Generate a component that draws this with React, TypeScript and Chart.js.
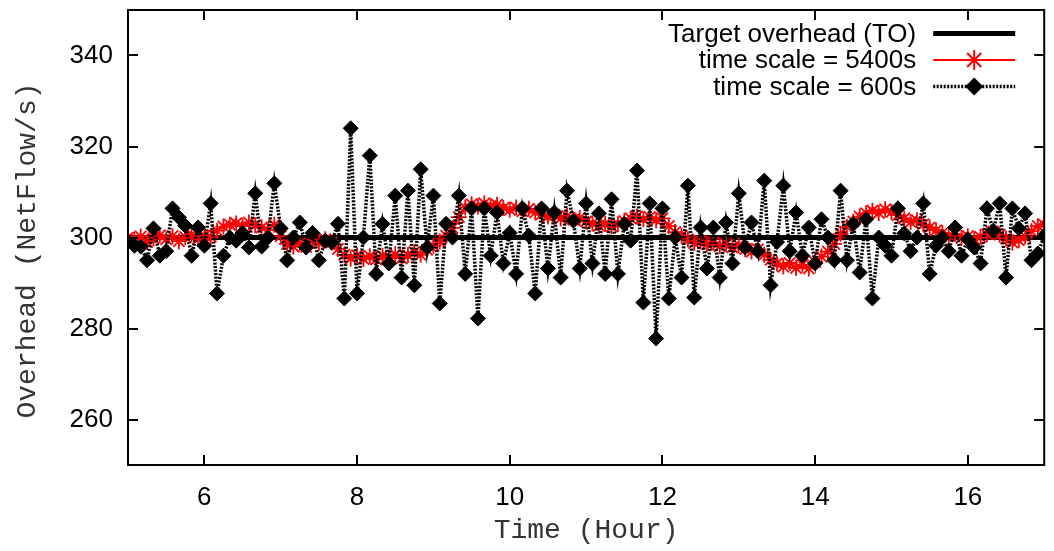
import React, { useEffect, useRef } from 'react';
import { Chart, registerables } from 'chart.js';

Chart.register(...registerables);

// ---- data ----
const startHour = 5;
const endHour = 17;
const stepMinutes = 5;
const xTicks = [6, 8, 10, 12, 14, 16];
const yTicks = [260, 280, 300, 320, 340];
const yMin = 250;
const yMax = 350;
const targetOverhead = 300;
const seriesLabels = ['Target overhead (TO)', 'time scale = 5400s', 'time scale = 600s'];
const xTitle = 'Time (Hour)';
const yTitle = 'Overhead (NetFlow/s)';

const scale5400 = [
  300, 299.5, 300.2, 299, 299.8, 300.5, 299.6, 300.3, 299.2, 300.1, 300.6, 299.7, 300.4,
  300.2, 301.5, 302.4, 302.8, 303.1, 302.5, 303.3, 302.7, 302.2, 301.6, 302.8,
  300.3, 298.6, 298.0, 298.8, 297.9, 299.5, 298.8, 299.6, 298.9,
  297.5, 296.2, 295.4, 296.1, 295.3, 295.9, 295.2, 296.0, 295.5, 296.3, 295.4, 296.1, 296.8, 296.2, 297.3,
  298.2, 299.1, 300.4, 302.1, 304.5, 306.6, 307.3, 306.8, 307.5, 306.9, 307.2, 306.5,
  306.1, 306.6, 305.8, 306.3, 305.5, 305.1, 304.6, 305.0, 304.2, 304.7, 303.9, 304.3, 303.5, 303.1, 302.6, 303.0,
  302.4, 302.9, 303.6, 304.2, 304.6, 304.0, 304.5, 303.8, 304.2, 302.5, 301.2, 300.4, 299.6, 298.8, 299.3, 298.5,
  298.9, 298.1, 298.6, 297.8, 298.3, 297.5, 296.9, 297.4, 296.2, 295.1, 294.3, 293.6, 294.4, 293.3, 294.0, 293.2,
  294.6, 295.8, 296.9, 298.6, 300.8, 302.3, 303.5, 304.6, 305.3, 305.9, 305.4, 306.2, 305.6, 304.9, 304.2, 303.4,
  303.8, 302.9, 302.2, 301.6, 301.0, 300.4, 300.8, 299.9, 300.3, 299.6, 300.1, 300.7, 301.3, 300.6, 299.8, 298.9,
  299.4, 300.2, 301.4, 302.5, 302.8,
];

const scale600 = [
  299, 298.2, 298, 295, 302, 296, 297, 306.4, 304.4, 302.6,
  296, 302.2, 298.2, 307.5, 287.7, 296, 300, 299.3, 301, 297.8,
  309.7, 298, 300, 311.9, 302, 295, 300, 303.3, 297.8, 301,
  295, 299.3, 298.9, 303, 286.6, 324, 287.7, 300, 318, 292,
  303, 294.3, 309.2, 291.2, 310.3, 289.5, 315, 297.8, 309.2, 285.5,
  303, 300, 309.2, 292, 306.4, 282.2, 306.4, 296, 305.5, 294.3,
  301, 292, 306.4, 300.4, 287.7, 306.4, 293.2, 305.5, 291.2, 310.3,
  303.7, 293.2, 307.5, 294.3, 305.3, 292, 308.4, 292, 303, 299.3,
  314.7, 285.7, 307.5, 277.8, 306.4, 286.6, 300, 291.2, 311.4, 286.8,
  302.2, 293.2, 302.2, 291.2, 303.3, 294.3, 309.7, 297.8, 303.3, 297,
  312.5, 289.5, 299, 311.4, 297, 305.5, 296, 302.2, 294.3, 304,
  300, 295, 310.3, 295, 303, 292.3, 304, 286.6, 300, 298.2,
  296, 306.4, 300.9, 297, 300, 307.5, 292, 298.2, 300, 297,
  302.2, 296, 299.6, 297.8, 294.3, 306.4, 301.5, 307.5, 291.2, 306.4,
  302, 305.3, 295, 296.5, 300.4,
];

const TICK_FONT = { family: '"Liberation Sans", Arial, sans-serif', size: 26 };
const TITLE_FONT = { family: '"Liberation Mono", "Courier New", monospace', size: 28 };
const TITLE_COLOR = '#333';

const framePlugin = {
  id: 'frameAndKey',
  afterDatasetsDraw(chart: any) {
    const { ctx, chartArea: a, scales } = chart;
    const x = scales.x;
    const y = scales.y;
    ctx.save();
    ctx.setLineDash([]);
    ctx.strokeStyle = '#000';
    ctx.lineWidth = 2;
    ctx.strokeRect(a.left, a.top, a.right - a.left, a.bottom - a.top);
    const L = 10;
    ctx.beginPath();
    for (const v of xTicks) {
      const px = Math.round(x.getPixelForValue(v));
      ctx.moveTo(px, a.bottom);
      ctx.lineTo(px, a.bottom - L);
      ctx.moveTo(px, a.top);
      ctx.lineTo(px, a.top + L);
    }
    for (const v of yTicks) {
      const py = Math.round(y.getPixelForValue(v));
      ctx.moveTo(a.left, py);
      ctx.lineTo(a.left + L, py);
      ctx.moveTo(a.right, py);
      ctx.lineTo(a.right - L, py);
    }
    ctx.stroke();

    // y axis title (vertical, monospace)
    ctx.save();
    ctx.translate(28, (a.top + a.bottom) / 2 + 13);
    ctx.rotate(-Math.PI / 2);
    ctx.font = `${TITLE_FONT.size}px ${TITLE_FONT.family}`;
    ctx.fillStyle = TITLE_COLOR;
    ctx.textAlign = 'center';
    ctx.textBaseline = 'middle';
    ctx.fillText(yTitle, 0, 0);
    ctx.restore();

    // key (top right, text right-aligned, sample to the right)
    const textRight = a.right - 128;
    const sx0 = a.right - 111;
    const sx1 = a.right - 29;
    const sxm = (sx0 + sx1) / 2;
    const rowY = [a.top + 23.5, a.top + 50, a.top + 76.5];
    ctx.font = `${TICK_FONT.size}px ${TICK_FONT.family}`;
    ctx.textAlign = 'right';
    ctx.textBaseline = 'middle';
    chart.data.datasets.forEach((ds: any, i: number) => {
      const ry = rowY[i];
      ctx.fillStyle = '#000';
      ctx.fillText(ds.label, textRight, ry + 1);
      ctx.save();
      ctx.strokeStyle = ds.borderColor;
      ctx.lineWidth = ds.borderWidth;
      ctx.setLineDash(ds.borderDash || []);
      ctx.beginPath();
      ctx.moveTo(sx0, ry);
      ctx.lineTo(sx1, ry);
      ctx.stroke();
      ctx.setLineDash([]);
      if (ds.pointStyle === 'star') {
        const r = 10;
        ctx.lineWidth = 2;
        ctx.strokeStyle = ds.pointBorderColor;
        ctx.beginPath();
        ctx.moveTo(sxm - r, ry); ctx.lineTo(sxm + r, ry);
        ctx.moveTo(sxm, ry - r); ctx.lineTo(sxm, ry + r);
        const d = r * Math.SQRT1_2;
        ctx.moveTo(sxm - d, ry - d); ctx.lineTo(sxm + d, ry + d);
        ctx.moveTo(sxm - d, ry + d); ctx.lineTo(sxm + d, ry - d);
        ctx.stroke();
      } else if (ds.pointStyle === 'rectRot') {
        const r = 9;
        ctx.fillStyle = ds.pointBackgroundColor;
        ctx.beginPath();
        ctx.moveTo(sxm, ry - r); ctx.lineTo(sxm + r, ry); ctx.lineTo(sxm, ry + r); ctx.lineTo(sxm - r, ry);
        ctx.closePath();
        ctx.fill();
      }
      ctx.restore();
    });
    ctx.restore();
  },
};

export default function App() {
  const ref = useRef<HTMLCanvasElement>(null);
  useEffect(() => {
    document.body.style.margin = '0';
    const hourAt = (i: number) => startHour + (i * stepMinutes) / 60;
    const pts600 = scale600.map((v, i) => ({ x: hourAt(i), y: v }));
    const pts5400 = scale5400.map((v, i) => ({ x: hourAt(i), y: v }));
    const ptsTO = [
      { x: startHour, y: targetOverhead },
      { x: endHour, y: targetOverhead },
    ];
    const chart = new Chart(ref.current as HTMLCanvasElement, {
      type: 'line',
      data: {
        datasets: [
          {
            label: seriesLabels[0],
            data: ptsTO,
            borderColor: '#000',
            borderWidth: 5,
            pointRadius: 0,
            order: 3,
          } as any,
          {
            label: seriesLabels[1],
            data: pts5400,
            borderColor: '#ff0000',
            borderWidth: 2,
            pointStyle: 'star',
            pointRadius: 8,
            pointBorderColor: '#ff0000',
            pointBackgroundColor: '#ff0000',
            pointBorderWidth: 1.8,
            order: 2,
          },
          {
            label: seriesLabels[2],
            data: pts600,
            borderColor: '#000',
            borderWidth: 3.5,
            borderDash: [2, 1.5],
            pointStyle: 'rectRot',
            pointRadius: 7.5,
            pointBorderColor: '#000',
            pointBackgroundColor: '#000',
            pointBorderWidth: 1,
            order: 1,
          },
        ],
      },
      options: {
        animation: false,
        responsive: false,
        layout: { padding: { top: 10, right: 5, left: 0, bottom: 0 } },
        plugins: { legend: { display: false }, tooltip: { enabled: false } },
        elements: { line: { tension: 0 } },
        scales: {
          x: {
            type: 'linear',
            min: startHour,
            max: endHour,
            afterBuildTicks: (s: any) => {
              s.ticks = xTicks.map((v) => ({ value: v }));
            },
            afterFit: (s: any) => {
              s.height = 86;
              s.paddingLeft = 0;
              s.paddingRight = 0;
            },
            grid: { display: false, drawTicks: false },
            border: { display: false },
            ticks: { font: TICK_FONT, color: '#000', padding: 17, maxRotation: 0, autoSkip: false },
            title: {
              display: true,
              text: xTitle,
              font: TITLE_FONT,
              color: TITLE_COLOR,
              padding: { top: 0, bottom: 4 },
            },
          },
          y: {
            type: 'linear',
            min: yMin,
            max: yMax,
            afterBuildTicks: (s: any) => {
              s.ticks = yTicks.map((v) => ({ value: v }));
            },
            afterFit: (s: any) => {
              s.width = 128;
              s.paddingTop = 0;
              s.paddingBottom = 0;
            },
            grid: { display: false, drawTicks: false },
            border: { display: false },
            ticks: { font: TICK_FONT, color: '#000', padding: 15 },
            title: { display: false },
          },
        },
      },
      plugins: [framePlugin],
    } as any);
    return () => chart.destroy();
  }, []);
  return (
    <div style={{ width: 1054, height: 551 }}>
      <canvas ref={ref} width={1054} height={551} style={{ display: 'block' }} />
    </div>
  );
}
